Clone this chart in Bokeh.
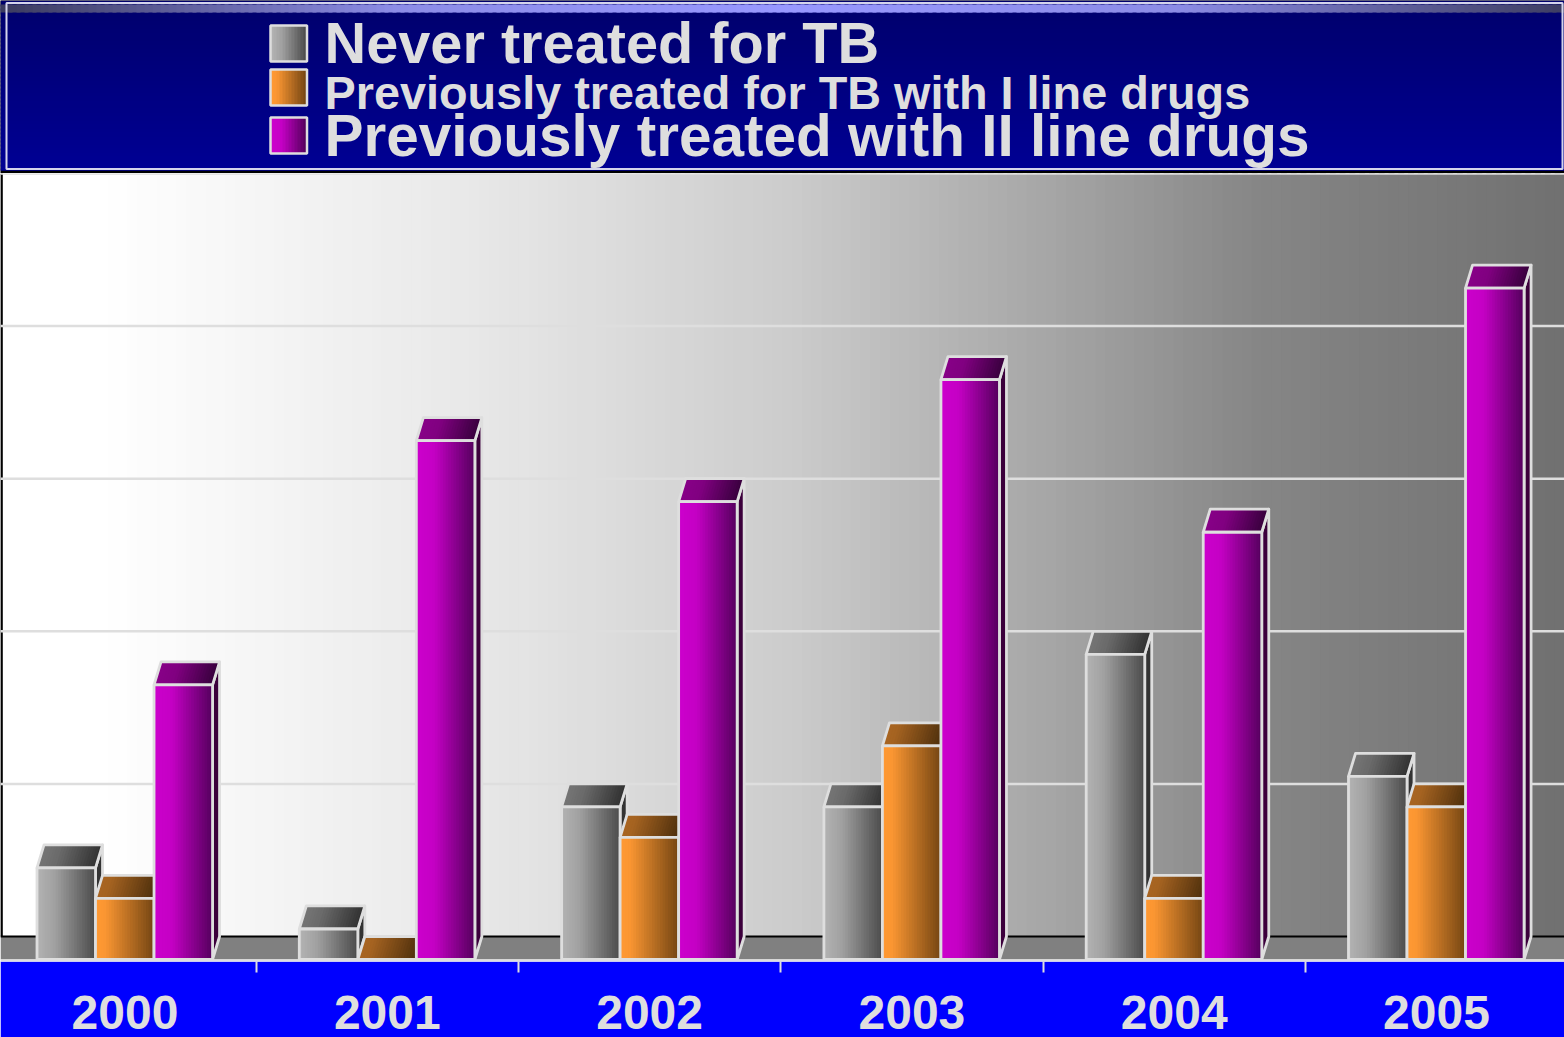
from bokeh.embed import file_html
from bokeh.resources import INLINE
from bokeh.layouts import column
from bokeh.models import Range1d, LinearAxis, FixedTicker, NumeralTickFormatter
from bokeh.plotting import figure
from bokeh.core.properties import value

years = [2000, 2001, 2002, 2003, 2004, 2005]
never_treated = [3, 1, 5, 5, 10, 6]
previously_first_line = [2, 0, 4, 7, 2, 5]
previously_second_line = [9, 17, 15, 19, 14, 22]
grid_values = [5, 10, 15, 20, 25]
legend_labels = [
    "Never treated for TB",
    "Previously treated for TB with I line drugs",
    "Previously treated with II line drugs",
]

FONT = "Liberation Sans"
LIGHT = "#dedede"
BAR_WIDTH = 0.2231
DEPTH_X = 0.0267
DEPTH_Y = 0.754
W = 1564


def mix(stops, t):
    for (t0, c0), (t1, c1) in zip(stops, stops[1:]):
        if t <= t1:
            f = (t - t0) / (t1 - t0) if t1 > t0 else 0
            rgb = [round(a + (b - a) * f) for a, b in zip(c0, c1)]
            return "#%02x%02x%02x" % tuple(rgb)
    return "#%02x%02x%02x" % tuple(stops[-1][1])


def shade(stops, k):
    return [(t, tuple(round(v * k) for v in c)) for t, c in stops]


GREY = [(0, (178, 178, 178)), (0.3, (160, 160, 160)), (1, (78, 78, 78))]
ORANGE = [(0, (255, 153, 51)), (0.15, (250, 150, 50)), (1, (120, 72, 20))]
PURPLE = [(0, (204, 0, 204)), (0.3, (196, 0, 196)), (1, (88, 0, 96))]
SERIES = [
    (never_treated, -0.3355, GREY, "#333333"),
    (previously_first_line, -0.1124, ORANGE, "#4a2c0c"),
    (previously_second_line, 0.1107, PURPLE, "#3c003c"),
]
WALL = [(0, (255, 255, 255)), (0.06, (255, 255, 255)), (0.3, (232, 232, 232)),
        (0.5, (204, 204, 204)), (0.65, (170, 170, 170)), (0.8, (134, 134, 134)),
        (1, (112, 112, 112))]
STRIP_COUNT = 22

# chart: frame spans the wall and floor, the axis band below holds the years
x0 = 2000 - 124.5 / 262.3
x1 = x0 + W / 262.3
p = figure(width=W, height=864, x_range=Range1d(x0, x1),
           y_range=Range1d(-0.0655, 25 + DEPTH_Y),
           output_backend="svg", toolbar_location=None,
           x_axis_location=None, y_axis_location=None,
           min_border=0, min_border_bottom=76, min_border_left=0,
           min_border_right=0, min_border_top=0,
           border_fill_color="#0000ff", background_fill_color="#ffffff",
           outline_line_color=None)
p.grid.visible = False

# horizontal shading of the back wall
n_wall = 160
xs = [x0 + (x1 - x0) * i / n_wall for i in range(n_wall + 1)]
p.quad(left=xs[:-1], right=[min(x1, x + (x1 - x0) / n_wall * 1.6) for x in xs[:-1]],
       bottom=DEPTH_Y, top=25 + DEPTH_Y, line_color=None,
       fill_color=[mix(WALL, i / n_wall) for i in range(n_wall)])

# floor and its back edge, wall edge on the left
p.quad(left=x0, right=x1, bottom=0, top=DEPTH_Y, fill_color="#808080", line_color=None)
p.segment(x0=[x0], x1=[x1], y0=[DEPTH_Y], y1=[DEPTH_Y], line_color="#000000", line_width=2)
p.segment(x0=[x0 + 0.004], x1=[x0 + 0.004], y0=[DEPTH_Y], y1=[25 + DEPTH_Y],
          line_color="#000000", line_width=2.5)

# gridlines sit on the back wall
p.segment(x0=x0, x1=x1, y0=[g + DEPTH_Y for g in grid_values],
          y1=[g + DEPTH_Y for g in grid_values], line_color=LIGHT, line_width=2.5)

EDGE = 2.8


def draw_bar(left, val, stops, side):
    right = left + BAR_WIDTH
    step = BAR_WIDTH / STRIP_COUNT
    tone = [mix(stops, i / (STRIP_COUNT - 1)) for i in range(STRIP_COUNT)]
    top_stops = shade(stops, 0.66)
    top_tone = [mix(top_stops, i / (STRIP_COUNT - 1)) for i in range(STRIP_COUNT)]

    # side face
    p.patch([right, right + DEPTH_X, right + DEPTH_X, right],
            [0, DEPTH_Y, val + DEPTH_Y, val],
            fill_color=side, line_color=LIGHT, line_width=EDGE, line_join="round")
    # top face, slanted strips
    t_xs, t_ys = [], []
    for i in range(STRIP_COUNT):
        a = left + i * step
        b = a + step * (1.5 if i < STRIP_COUNT - 1 else 1)
        t_xs.append([a, b, b + DEPTH_X, a + DEPTH_X])
        t_ys.append([val, val, val + DEPTH_Y, val + DEPTH_Y])
    p.patches(t_xs, t_ys, fill_color=top_tone, line_color=None)
    p.patch([left, right, right + DEPTH_X, left + DEPTH_X],
            [val, val, val + DEPTH_Y, val + DEPTH_Y],
            fill_color=None, line_color=LIGHT, line_width=EDGE, line_join="round")
    # front face
    if val > 0:
        p.quad(left=[left + i * step for i in range(STRIP_COUNT)],
               right=[left + (i + (1.5 if i < STRIP_COUNT - 1 else 1)) * step for i in range(STRIP_COUNT)],
               bottom=0, top=val, fill_color=tone, line_color=None)
        p.quad(left=[left], right=[right], bottom=[0], top=[val],
               fill_color=None, line_color=LIGHT, line_width=EDGE)


for idx, year in enumerate(years):
    for vals, offset, stops, side in SERIES:
        draw_bar(year + offset, vals[idx], stops, side)

# baseline along the front of the floor
p.segment(x0=[x0], x1=[x1], y0=[-0.0328], y1=[-0.0328], line_color=LIGHT, line_width=2.5)

axis = LinearAxis(
    ticker=FixedTicker(ticks=years, minor_ticks=[y + 0.5 for y in years[:-1]]),
    formatter=NumeralTickFormatter(format="0"),
    axis_line_color=None, major_tick_line_color=None,
    minor_tick_line_color=LIGHT, minor_tick_line_width=2,
    minor_tick_out=11, minor_tick_in=0, major_tick_in=0, major_tick_out=0,
    major_label_standoff=23, major_label_text_color=LIGHT,
    major_label_text_font=FONT, major_label_text_font_style="bold",
    major_label_text_font_size="48px")
p.add_layout(axis, "below")

# legend banner
h = figure(width=W, height=173, x_range=Range1d(0, W), y_range=Range1d(173, 0),
           output_backend="svg", toolbar_location=None,
           x_axis_location=None, y_axis_location=None, min_border=0,
           border_fill_color="#000000", background_fill_color="#000000",
           outline_line_color=None)
h.grid.visible = False

BANNER = [(0, (0, 0, 108)), (1, (0, 0, 148))]
rows = list(range(0, 170, 4))
h.quad(left=0, right=W, top=rows, bottom=[min(r + 6, 170) for r in rows],
       fill_color=[mix(BANNER, r / 170) for r in rows], line_color=None)

SHEEN = [(0, (60, 60, 96)), (0.25, (140, 140, 230)), (0.5, (152, 152, 255)),
         (0.75, (140, 140, 230)), (1, (60, 60, 96))]
sx = list(range(0, W, 8))
h.quad(left=sx, right=[s + 12 for s in sx], top=4, bottom=12,
       fill_color=[mix(SHEEN, s / W) for s in sx], line_color=None)
h.quad(left=[6], right=[1562], top=[2.5], bottom=[168.5], fill_color=None,
       line_color="#d4d4ec", line_width=2)

swatch_tops = [25, 69, 117]
swatch_stops = [GREY, ORANGE, PURPLE]
for top, stops in zip(swatch_tops, swatch_stops):
    n = 12
    step = 36 / n
    h.quad(left=[270 + i * step for i in range(n)],
           right=[270 + (i + 1.5) * step if i < n - 1 else 306 for i in range(n)],
           top=top, bottom=top + 36, line_color=None,
           fill_color=[mix(stops, i / (n - 1)) for i in range(n)])
    h.quad(left=[270], right=[306.5], top=[top], bottom=[top + 36],
           fill_color=None, line_color=LIGHT, line_width=2.5)

h.text(x=[324, 324, 324], y=[42.5, 92, 134.5], text=legend_labels,
       text_font=value(FONT), text_font_style="bold", text_color=LIGHT,
       text_align="left", text_baseline="alphabetic",
       text_font_size=["57.7px", "46.8px", "58.5px"])

page = column(h, p, spacing=0)
open("out.html", "w").write(file_html(page, INLINE))
